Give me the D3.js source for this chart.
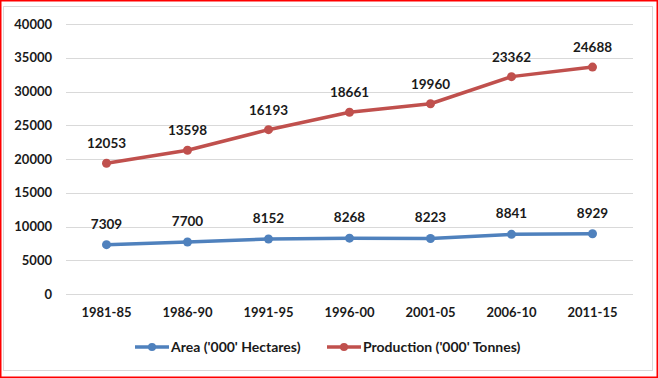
<!DOCTYPE html>
<html>
<head>
<meta charset="utf-8">
<script src="https://cdn.jsdelivr.net/npm/d3@7"></script>
<style>
body { margin: 0; background: #fff; }
text { font-family: Lato, "Open Sans", sans-serif; font-weight: bold; fill: #1a1a1a; }
</style>
</head>
<body>
<script>
var w = 658;
var h = 378;

// Data
var periods = ["1981-85", "1986-90", "1991-95", "1996-00", "2001-05", "2006-10", "2011-15"];
var area = [7309, 7700, 8152, 8268, 8223, 8841, 8929];
var production = [12053, 13598, 16193, 18661, 19960, 23362, 24688];
var yTicks = [0, 5000, 10000, 15000, 20000, 25000, 30000, 35000, 40000];

var blue = "#4f81bd";
var red = "#c0504d";

var svg = d3.select("body")
            .append("svg")
            .attr("width", w)
            .attr("height", h);

// outer red frame + inner grey chart border
svg.append("rect")
    .attr("x", 0.5).attr("y", 0.5)
    .attr("width", w - 1).attr("height", h - 1)
    .attr("fill", "none").attr("stroke", "#ff0000").attr("stroke-width", 2);
svg.append("rect")
    .attr("x", 3.5).attr("y", 6.5)
    .attr("width", 649).attr("height", 364)
    .attr("fill", "none").attr("stroke", "#d9d9d9").attr("stroke-width", 1);

var plotLeft = 66, plotRight = 633, plotTop = 24, plotBottom = 294;

var xScale = d3.scaleBand()
               .domain(periods)
               .range([plotLeft, plotRight]);
var yScale = d3.scaleLinear()
               .domain([0, 40000])
               .range([plotBottom, plotTop]);

function cx(d) { return xScale(d) + xScale.bandwidth() / 2; }

// gridlines
svg.append("g")
    .selectAll("line")
    .data(yTicks)
    .enter()
    .append("line")
    .attr("x1", plotLeft).attr("x2", plotRight)
    .attr("y1", function(d) { return Math.round(yScale(d)) + 0.5; })
    .attr("y2", function(d) { return Math.round(yScale(d)) + 0.5; })
    .attr("stroke", "#d9d9d9").attr("stroke-width", 1);

// y axis labels
var yAxis = d3.axisLeft(yScale).tickValues(yTicks).tickFormat(d3.format("d"))
              .tickSize(0).tickPadding(14);
var gy = svg.append("g")
    .attr("transform", "translate(" + plotLeft + ",0)")
    .call(yAxis);
gy.select(".domain").remove();
gy.selectAll("text").attr("font-size", "13px").attr("font-family", null).attr("fill", null);

// x axis labels
var xAxis = d3.axisBottom(xScale).tickSize(0).tickPadding(14);
var gx = svg.append("g")
    .attr("transform", "translate(0," + plotBottom + ")")
    .call(xAxis);
gx.select(".domain").remove();
gx.selectAll("text").attr("font-size", "13px").attr("font-family", null).attr("fill", null);

// stacked values: production sits on top of area
var stacked = periods.map(function(p, i) { return area[i] + production[i]; });

var series = [
    { name: "Area ('000' Hectares)", color: blue, plot: area, labels: area, dy: -16 },
    { name: "Production ('000' Tonnes)", color: red, plot: stacked, labels: production, dy: -15 }
];

var line = d3.line()
    .x(function(d, i) { return cx(periods[i]); })
    .y(function(d) { return yScale(d); });

series.forEach(function(s) {
    var g = svg.append("g");
    g.append("path")
        .datum(s.plot)
        .attr("d", line)
        .attr("fill", "none")
        .attr("stroke", s.color)
        .attr("stroke-width", 3.5)
        .attr("stroke-linejoin", "round");
    g.selectAll("circle")
        .data(s.plot)
        .enter()
        .append("circle")
        .attr("cx", function(d, i) { return cx(periods[i]); })
        .attr("cy", function(d) { return yScale(d); })
        .attr("r", 4.5)
        .attr("fill", s.color);
    g.selectAll("text")
        .data(s.labels)
        .enter()
        .append("text")
        .attr("x", function(d, i) { return cx(periods[i]); })
        .attr("y", function(d, i) { return yScale(s.plot[i]) + s.dy; })
        .attr("text-anchor", "middle")
        .attr("font-size", "13.5px")
        .text(function(d) { return d; });
});

// legend
var legendX = [135, 327];
series.forEach(function(s, i) {
    var lg = svg.append("g").attr("transform", "translate(" + legendX[i] + ",347)");
    lg.append("line")
        .attr("x1", 0).attr("x2", 34)
        .attr("stroke", s.color).attr("stroke-width", 3.5);
    lg.append("circle").attr("cx", 17).attr("r", 4).attr("fill", s.color);
    lg.append("text")
        .attr("x", 36).attr("y", 5)
        .attr("font-size", "14px")
        .text(s.name);
});
</script>
</body>
</html>
